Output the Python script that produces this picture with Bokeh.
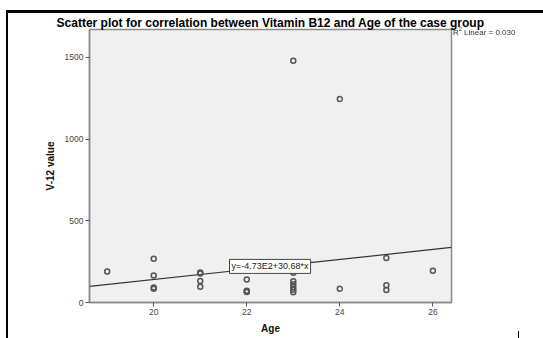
from bokeh.plotting import figure
from bokeh.models import Range1d, Label, FixedTicker, Div
from bokeh.layouts import column
from bokeh.embed import file_html
from bokeh.resources import INLINE

# Data
ages = [19, 20, 20, 20, 20, 21, 21, 21, 21, 22, 22, 22, 22,
        23, 23, 23, 23, 23, 23, 23, 24, 24, 25, 25, 25, 26]
b12_values = [190, 268, 166, 92, 84, 184, 178, 131, 96, 141, 72, 68, 64,
              1480, 182, 130, 112, 95, 78, 62, 1246, 84, 272, 106, 76, 194]
fit_intercept = -473.0
fit_slope = 30.68
r2_linear = 0.030
x_ticks = [20, 22, 24, 26]
y_ticks = [0, 500, 1000, 1500]

X0, X1 = 18.62, 26.40
Y0, Y1 = 0, 1671

FONT = "Liberation Sans"

p = figure(width=543, height=336, output_backend="svg", toolbar_location=None,
           x_range=Range1d(X0, X1), y_range=Range1d(Y0, Y1),
           title="Scatter plot for correlation between Vitamin B12 and Age of the case group",
           min_border_left=89, min_border_right=92, min_border_top=29, min_border_bottom=33)

p.title.text_font = FONT
p.title.text_font_size = "12px"
p.title.text_font_style = "bold"
p.title.align = "center"
p.title.standoff = 0
p.title.offset = 0
p.title.text_color = "#000"

p.background_fill_color = "#f0f0f0"
p.border_fill_color = "white"
p.outline_line_color = "#8a8a8a"
p.outline_line_width = 1.5
p.xgrid.visible = False
p.ygrid.visible = False

for ax in (p.xaxis[0], p.yaxis[0]):
    ax.axis_line_color = "#8a8a8a"
    ax.axis_line_width = 1.5
    ax.major_tick_line_color = "#555"
    ax.major_tick_in = 0
    ax.major_tick_out = 4
    ax.minor_tick_line_color = None
    ax.major_label_text_font = FONT
    ax.major_label_text_font_size = "8.5px"
    ax.major_label_text_color = "#444"
    ax.axis_label_text_font = FONT
    ax.axis_label_text_font_size = "10px"
    ax.axis_label_text_font_style = "bold"
    ax.axis_label_text_color = "#111"
    ax.major_label_standoff = 2

p.xaxis.ticker = FixedTicker(ticks=x_ticks)
p.yaxis.ticker = FixedTicker(ticks=y_ticks)
p.xaxis.axis_label = "Age"
p.yaxis.axis_label = "V-12 value"
p.xaxis.axis_label_standoff = 5
p.yaxis.axis_label_standoff = 6

# regression line from the equation shown in the chart
fx = [X0, X1]
fy = [fit_intercept + fit_slope * v for v in fx]
p.line(fx, fy, line_color="#333", line_width=1.2)

p.scatter(ages, b12_values, marker="circle", size=5, fill_color=None,
          line_color="#555", line_width=1.5)

eq = Label(x=22.50, y=221, text="y=-4.73E2+30.68*x", text_font=FONT,
           text_font_size="9px", text_color="#222", text_align="center",
           text_baseline="middle", background_fill_color="white",
           border_line_color="#444", border_line_width=1,
           padding=2)
p.add_layout(eq)

# R² note beside the plot area, outer black frame edges and the small mark at bottom right
r2_text = "R<sup style='font-size:5.5px'>2</sup> Linear = %.3f" % r2_linear
overlay = Div(text=(
    "<div style=\"position:fixed;left:453px;top:26px;font-family:'Liberation Sans';"
    "font-size:8px;color:#333;white-space:nowrap;\">" + r2_text + "</div>"
    "<div style=\"position:fixed;left:6px;top:10px;width:600px;height:400px;"
    "border-top:3px solid #000;border-left:2px solid #000;pointer-events:none;\"></div>"
    "<div style=\"position:fixed;left:518px;top:331px;width:1px;height:8px;"
    "background:#000;\"></div>"), width=1, height=1)

layout = column(p, overlay, spacing=0)
open("out.html", "w").write(file_html(layout, INLINE))
